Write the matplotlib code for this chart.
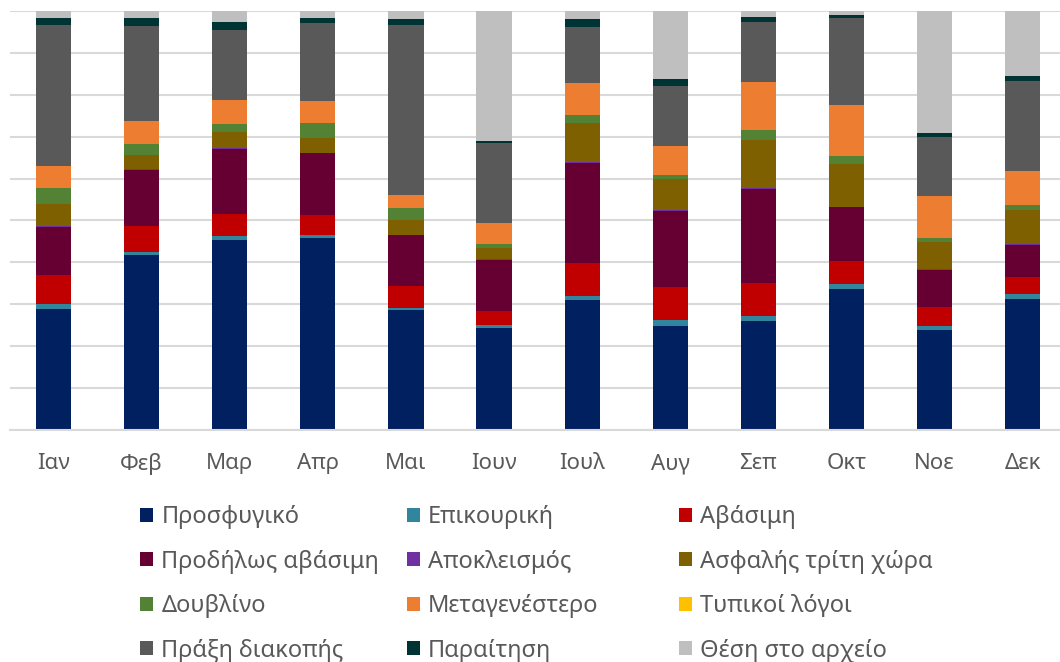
#Μηνιαία κατανομή αποφάσεων (100% στοιβαγμένες στήλες)
import numpy as np
import matplotlib
matplotlib.use("Agg")
import matplotlib.pyplot as plt

plt.rcParams['font.family'] = ['Noto Sans', 'DejaVu Sans']

months = ["Ιαν", "Φεβ", "Μαρ", "Απρ", "Μαι", "Ιουν", "Ιουλ", "Αυγ", "Σεπ", "Οκτ", "Νοε", "Δεκ"]

prosfygiko   = [28.9, 41.8, 45.4, 45.9, 28.6, 24.3, 31.0, 24.8, 26.0, 33.6, 23.8, 31.2]
epikouriki   = [1.2, 0.7, 0.9, 0.6, 0.5, 0.6, 0.9, 1.5, 1.1, 1.1, 0.9, 1.2]
avasimi      = [6.8, 6.3, 5.3, 4.7, 5.1, 3.5, 8.0, 7.7, 8.0, 5.5, 4.5, 4.1]
prodilos     = [11.5, 13.4, 15.5, 14.9, 12.3, 12.2, 23.9, 18.3, 22.5, 12.9, 9.0, 7.6]
apokleismos  = [0.2, 0.1, 0.2, 0.1, 0.1, 0.1, 0.1, 0.1, 0.1, 0.1, 0.1, 0.3]
asfalis      = [5.3, 3.4, 3.9, 3.6, 3.5, 2.6, 9.3, 7.4, 11.6, 10.4, 6.6, 8.1]
doublino     = [3.9, 2.7, 1.9, 3.5, 2.8, 1.1, 1.9, 1.1, 2.3, 1.8, 0.8, 1.3]
metagenestero = [5.1, 5.4, 5.7, 5.2, 3.2, 4.9, 7.8, 6.8, 11.6, 12.1, 10.1, 8.0]
typikoi      = [0, 0, 0, 0, 0, 0, 0, 0, 0, 0, 0, 0]
diakopi      = [33.8, 22.9, 16.7, 18.6, 40.7, 19.1, 13.4, 14.5, 14.2, 20.8, 14.2, 21.6]
paraitisi    = [1.7, 1.8, 2.0, 1.4, 1.4, 0.5, 1.8, 1.6, 1.2, 0.7, 1.0, 1.2]
archeio      = [1.6, 1.6, 2.5, 1.5, 1.8, 31.1, 1.9, 16.2, 1.4, 1.0, 29.0, 15.5]

series = [
    ("Προσφυγικό", prosfygiko, "#002060"),
    ("Επικουρική", epikouriki, "#31859C"),
    ("Αβάσιμη", avasimi, "#C00000"),
    ("Προδήλως αβάσιμη", prodilos, "#660033"),
    ("Αποκλεισμός", apokleismos, "#7030A0"),
    ("Ασφαλής τρίτη χώρα", asfalis, "#7F6000"),
    ("Δουβλίνο", doublino, "#548235"),
    ("Μεταγενέστερο", metagenestero, "#ED7D31"),
    ("Τυπικοί λόγοι", typikoi, "#FFC000"),
    ("Πράξη διακοπής", diakopi, "#595959"),
    ("Παραίτηση", paraitisi, "#003333"),
    ("Θέση στο αρχείο", archeio, "#BFBFBF"),
]

# κανονικοποίηση σε 100%
data = np.array([s[1] for s in series], dtype=float)
data = data / data.sum(axis=0) * 100

W, H = 1060, 662
fig = plt.figure(figsize=(W / 100, H / 100), dpi=100)
ax = fig.add_axes([9.5 / W, 1 - 429.5 / H, (W - 9.5) / W, 418.2 / H])

x = np.arange(len(months))
bottom = np.zeros(len(months))
handles = []
for (name, _, color), vals in zip(series, data):
    b = ax.bar(x, vals, 0.4, bottom=bottom, color=color, label=name, linewidth=0)
    handles.append(b)
    bottom += vals

ax.set_ylim(0, 100)
ax.set_xlim(-0.5, -0.5 + (W - 9.5) / 88.1)
ax.set_yticks(np.arange(0, 101, 10))
ax.yaxis.grid(True, color="#D9D9D9", linewidth=1.5)
ax.set_axisbelow(True)
ax.tick_params(axis="y", left=False, labelleft=False)
ax.tick_params(axis="x", length=0, pad=17, labelsize=16, labelcolor="#595959")
ax.set_xticks(x)
ax.set_xticklabels(months)
for s in ["top", "right", "left"]:
    ax.spines[s].set_visible(False)
ax.spines["bottom"].set_color("#D9D9D9")
ax.spines["bottom"].set_linewidth(1.5)

# υπόμνημα σε τρεις στήλες
col_x = [140, 407, 679]
for j in range(3):
    hs = [handles[j + 3 * k] for k in range(4)]
    ls = [series[j + 3 * k][0] for k in range(4)]
    leg = fig.legend(hs, ls, loc="upper left", bbox_to_anchor=(col_x[j] / W, 1 - 505 / H),
                     frameon=False, fontsize=17, handlelength=0.55, handleheight=0.55,
                     handletextpad=0.35, labelspacing=0.87, borderpad=0, borderaxespad=0,
                     labelcolor="#595959")

fig.savefig("out.png", dpi=100)
